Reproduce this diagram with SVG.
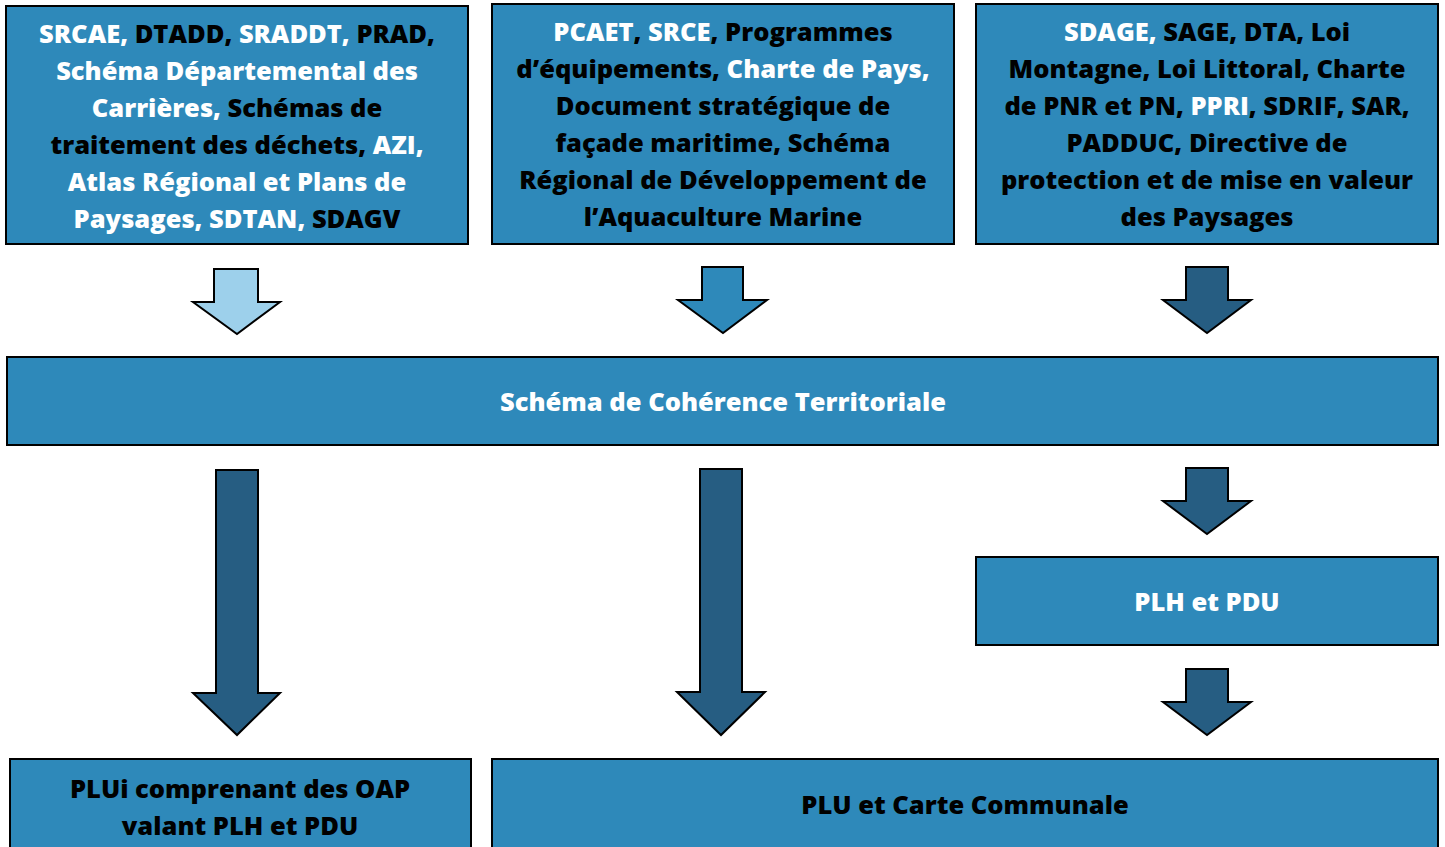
<svg xmlns="http://www.w3.org/2000/svg" width="1445" height="847" viewBox="0 0 1445 847">
<style>
.box{fill:#2E89BA;stroke:#000;stroke-width:2}
.t{font-family:"Open Sans","Liberation Sans",sans-serif;font-weight:800;font-size:25.5px;text-anchor:middle}
.w{fill:#fff}
.b{fill:#000}
.arL{fill:#9DD0EB;stroke:#000;stroke-width:2;stroke-linejoin:miter}
.arM{fill:#2E89BA;stroke:#000;stroke-width:2;stroke-linejoin:miter}
.arD{fill:#265D82;stroke:#000;stroke-width:2;stroke-linejoin:miter}
</style>
<rect width="1445" height="847" fill="#fff"/>
<g id="box1">
<rect class="box" x="6" y="6" width="462" height="238"/>
<text class="t" y="43"><tspan x="237" class="w">SRCAE, </tspan><tspan class="b">DTADD, </tspan><tspan class="w">SRADDT, </tspan><tspan class="b">PRAD,</tspan></text>
<text class="t w" x="237" y="80">Schéma Départemental des</text>
<text class="t" y="117"><tspan x="237" class="w">Carrières, </tspan><tspan class="b">Schémas de</tspan></text>
<text class="t" y="154"><tspan x="237" class="b">traitement des déchets, </tspan><tspan class="w">AZI,</tspan></text>
<text class="t w" x="237" y="191">Atlas Régional et Plans de</text>
<text class="t" y="228"><tspan x="237" class="w">Paysages, SDTAN, </tspan><tspan class="b">SDAGV</tspan></text>
</g>
<g id="box2">
<rect class="box" x="492" y="4" width="462" height="240"/>
<text class="t" y="41"><tspan x="723" class="w">PCAET</tspan><tspan class="b">, </tspan><tspan class="w">SRCE</tspan><tspan class="b">, Programmes</tspan></text>
<text class="t" y="78"><tspan x="723" class="b">d’équipements, </tspan><tspan class="w">Charte de Pays,</tspan></text>
<text class="t b" x="723" y="115">Document stratégique de</text>
<text class="t b" x="723" y="152">façade maritime, Schéma</text>
<text class="t b" x="723" y="189">Régional de Développement de</text>
<text class="t b" x="723" y="226">l’Aquaculture Marine</text>
</g>
<g id="box3">
<rect class="box" x="976" y="4" width="462" height="240"/>
<text class="t" y="41"><tspan x="1207" class="w">SDAGE, </tspan><tspan class="b">SAGE, DTA, Loi</tspan></text>
<text class="t b" x="1207" y="78">Montagne, Loi Littoral, Charte</text>
<text class="t" y="115"><tspan x="1207" class="b">de PNR et PN, </tspan><tspan class="w">PPRI</tspan><tspan class="b">, SDRIF, SAR,</tspan></text>
<text class="t b" x="1207" y="152">PADDUC, Directive de</text>
<text class="t b" x="1207" y="189">protection et de mise en valeur</text>
<text class="t b" x="1207" y="226">des Paysages</text>
</g>
<g id="scot">
<rect class="box" x="7" y="357" width="1431" height="88"/>
<text class="t w" x="723" y="411">Schéma de Cohérence Territoriale</text>
</g>
<g id="plhpdu">
<rect class="box" x="976" y="557" width="462" height="88"/>
<text class="t w" x="1207" y="611">PLH et PDU</text>
</g>
<g id="plui">
<rect class="box" x="10" y="759" width="461" height="100"/>
<text class="t b" x="240" y="798">PLUi comprenant des OAP</text>
<text class="t b" x="240" y="835">valant PLH et PDU</text>
</g>
<g id="plu">
<rect class="box" x="492" y="759" width="946" height="100"/>
<text class="t b" x="965" y="814">PLU et Carte Communale</text>
</g>
<g id="connectors">
<polygon class="arL" points="214,269 258,269 258,302 280,302 237,334 193,302 214,302"/>
<polygon class="arM" points="702,267 743,267 743,300 767,300 723,333 678,300 702,300"/>
<polygon class="arD" points="1186,267 1228,267 1228,300 1251,300 1207,333 1163,300 1186,300"/>
<polygon class="arD" points="216,470 258,470 258,693 280,693 237,735 193,693 216,693"/>
<polygon class="arD" points="700,469 742,469 742,692 765,692 721,735 677,692 700,692"/>
<polygon class="arD" points="1186,468 1228,468 1228,501 1251,501 1207,534 1163,501 1186,501"/>
<polygon class="arD" points="1186,669 1228,669 1228,702 1251,702 1207,735 1163,702 1186,702"/>
</g>
</svg>
